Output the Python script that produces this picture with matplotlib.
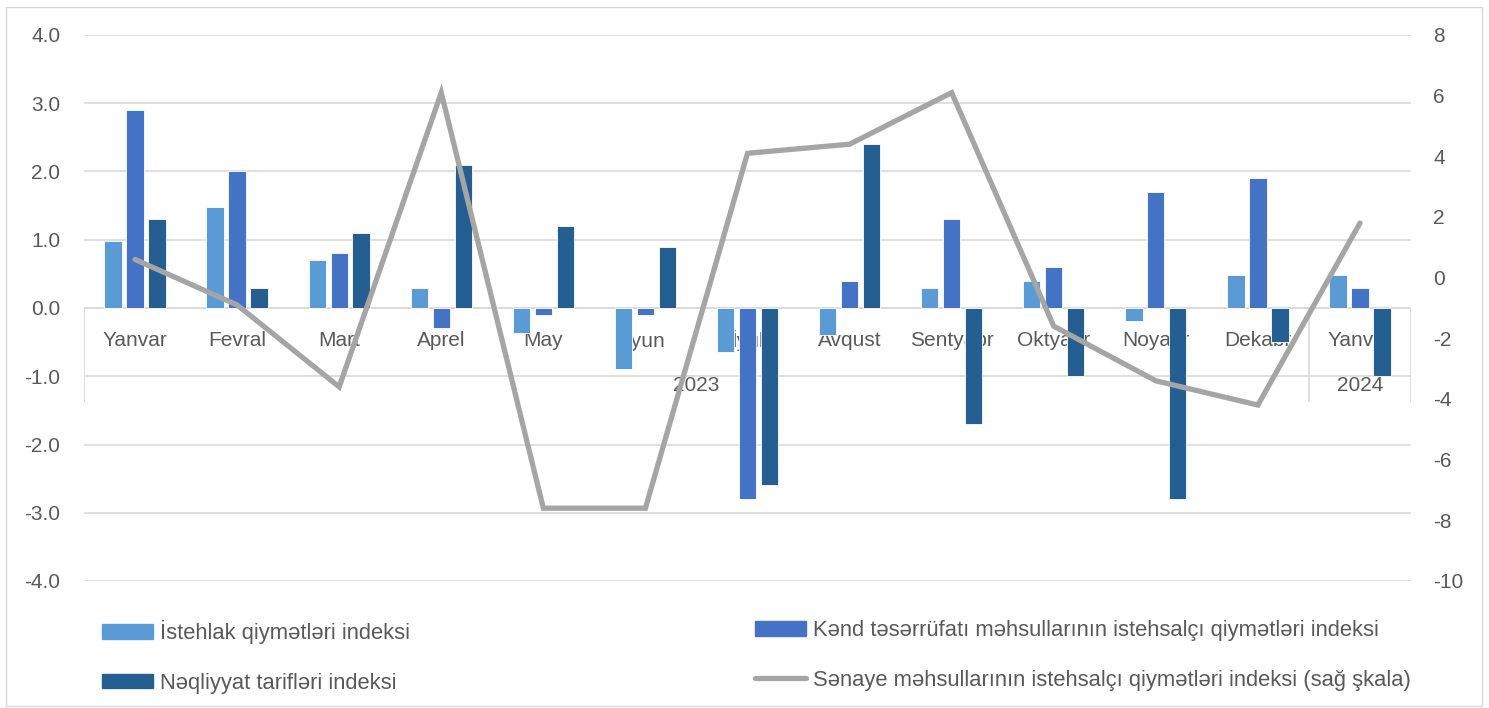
import matplotlib
matplotlib.use('Agg')
import matplotlib.pyplot as plt
from matplotlib.patches import Rectangle
from matplotlib.lines import Line2D
import numpy as np

plt.rcParams['font.family'] = ['Liberation Sans', 'DejaVu Sans']

# data
months = ['Yanvar', 'Fevral', 'Mart', 'Aprel', 'May', 'İyun', 'İyul',
          'Avqust', 'Sentyabr', 'Oktyabr', 'Noyabr', 'Dekabr', 'Yanvar']
years = ['2023', '2024']
year_spans = [(0, 11), (12, 12)]

istehlak = [0.98, 1.48, 0.7, 0.3, -0.37, -0.9, -0.65, -0.4, 0.3, 0.4, -0.19, 0.49, 0.49]
kend = [2.9, 2.0, 0.8, -0.3, -0.1, -0.1, -2.8, 0.4, 1.3, 0.6, 1.7, 1.9, 0.3]
neqliyyat = [1.3, 0.3, 1.1, 2.1, 1.2, 0.9, -2.6, 2.4, -1.7, -1.0, -2.8, -0.5, -1.0]
senaye = [0.6, -0.9, -3.6, 6.1, -7.6, -7.6, 4.1, 4.4, 6.1, -1.6, -3.4, -4.2, 1.8]

labels = ['İstehlak qiymətləri indeksi',
          'Kənd təsərrüfatı məhsullarının istehsalçı qiymətləri indeksi',
          'Nəqliyyat tarifləri indeksi',
          'Sənaye məhsullarının istehsalçı qiymətləri indeksi (sağ şkala)']

COLORS = ['#5B9BD5', '#4472C4', '#255E91']
LINE_COLOR = '#A5A5A5'
GRID_COLOR = '#D9D9D9'
TEXT_COLOR = '#595959'
FONT_SIZE = 15
LEGEND_SIZE = 15.8

W, H = 1489, 708
fig = plt.figure(figsize=(W / 100, H / 100), dpi=100)

# outer chart border
fig.patches.append(Rectangle((6 / W, 2 / H), 1476 / W, 699 / H, transform=fig.transFigure,
                             fill=False, edgecolor=GRID_COLOR, linewidth=1.0))

ax = fig.add_axes([84 / W, 127 / H, 1327 / W, 546 / H])
ax2 = ax.twinx()

x = np.arange(len(months))
bar_w = 0.17
offs = [-0.215, 0.0, 0.215]
for i, vals in enumerate([istehlak, kend, neqliyyat]):
    ax.bar(x + offs[i], vals, width=bar_w, color=COLORS[i], edgecolor='white',
           linewidth=0.6, zorder=2, label=labels[i])

ax.set_xlim(-0.5, len(months) - 0.5)
ax.set_ylim(-4, 4)
ax.set_yticks(np.arange(-4, 4.1, 1))
ax.set_yticklabels(['%.1f' % v for v in np.arange(-4, 4.1, 1)])
ax.yaxis.grid(True, color=GRID_COLOR, linewidth=1.2, zorder=0)
ax.set_axisbelow(True)
ax.set_xticks([])
ax.tick_params(axis='y', length=0, pad=17, labelsize=FONT_SIZE, labelcolor=TEXT_COLOR)
for s in ax.spines.values():
    s.set_visible(False)

# category axis at zero with multi-level labels
ax.axhline(0, color=GRID_COLOR, linewidth=1.2, zorder=1)
sep_bottom = -1.38
ax.vlines([-0.5, 11.5, 12.5], sep_bottom, 0, color=GRID_COLOR, linewidth=1.2, zorder=1)
for i, m in enumerate(months):
    ax.text(i, -0.47, m, ha='center', va='center', fontsize=FONT_SIZE,
            color=TEXT_COLOR, zorder=1)
for yr, (a, b) in zip(years, year_spans):
    ax.text((a + b) / 2, -1.13, yr, ha='center', va='center', fontsize=FONT_SIZE,
            color=TEXT_COLOR, zorder=1)

ax2.plot(x, senaye, color=LINE_COLOR, linewidth=3.8, solid_capstyle='round',
         solid_joinstyle='miter', zorder=3, label=labels[3])
ax2.set_ylim(-10, 8)
ax2.set_yticks(np.arange(-10, 8.1, 2))
ax2.set_yticklabels(['%d' % v for v in np.arange(-10, 8.1, 2)])
ax2.tick_params(axis='y', length=0, pad=16, labelsize=FONT_SIZE, labelcolor=TEXT_COLOR)
for s in ax2.spines.values():
    s.set_visible(False)

# legend in two columns
h_bar = [Rectangle((0, 0), 1, 1, color=c) for c in COLORS]
h_line = Line2D([0], [0], color=LINE_COLOR, linewidth=3.8, solid_capstyle='round')
leg_kw = dict(frameon=False, fontsize=LEGEND_SIZE, handlelength=2.33, handleheight=0.64,
              handletextpad=0.3, labelspacing=1.3, borderpad=0, borderaxespad=0,
              labelcolor=TEXT_COLOR, loc='upper left')
leg1 = fig.legend([h_bar[0], h_bar[2]], [labels[0], labels[2]],
                  bbox_to_anchor=(102 / W, 1 - 620 / H), **leg_kw)
leg2 = fig.legend([h_bar[1], h_line], [labels[1], labels[3]],
                  bbox_to_anchor=(755 / W, 1 - 620 / H), **leg_kw)

fig.savefig('out.png', dpi=100)
